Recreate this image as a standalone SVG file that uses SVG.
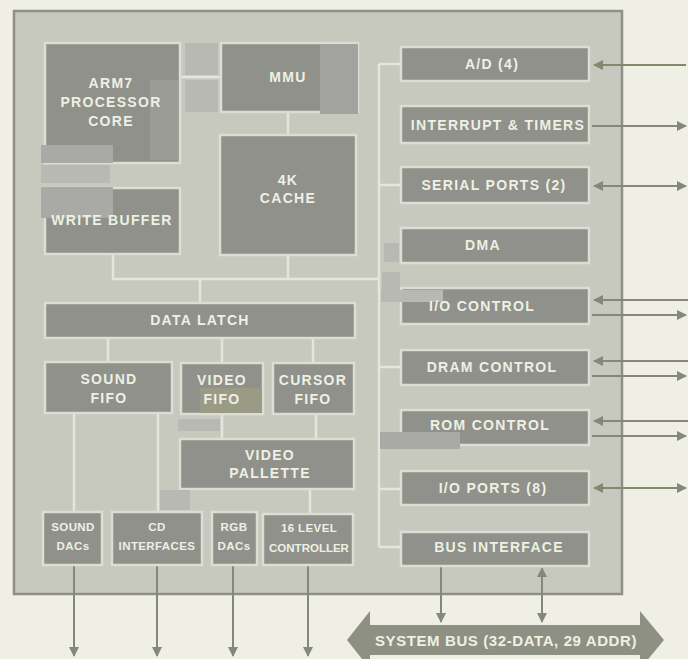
<svg xmlns="http://www.w3.org/2000/svg" width="688" height="659" viewBox="0 0 688 659">
<defs>
<style>
.blk{fill:#8f918a;stroke:#dcddd3;stroke-width:2.5}
.t{font-family:"Liberation Sans",Arial,sans-serif;font-weight:bold;fill:#eef0e4;text-anchor:middle}
.t14{font-size:14px;letter-spacing:1.3px}
.t12{font-size:11.5px;letter-spacing:0.4px}
.wire{stroke:#e4e5dc;stroke-width:2.5;fill:none}
.arr{stroke:#85877f;stroke-width:2;fill:none}
.patch{fill:#a9aaa5}
.lpatch{fill:#b8b9b3}
</style>
<marker id="ah" viewBox="0 0 10 10" refX="9" refY="5" markerWidth="10" markerHeight="10" markerUnits="userSpaceOnUse" orient="auto-start-reverse">
<path d="M0,0 L10,5 L0,10 z" fill="#85877f"/>
</marker>
<marker id="ahg" viewBox="0 0 10 10" refX="9" refY="5" markerWidth="10" markerHeight="10" markerUnits="userSpaceOnUse" orient="auto-start-reverse">
<path d="M0,0 L10,5 L0,10 z" fill="#7f8a6e"/>
</marker>
</defs>
<rect x="0" y="0" width="688" height="659" fill="#efefe6"/>
<rect id="chip" x="14" y="11" width="608" height="583" fill="#c7c8be" stroke="#8e8f88" stroke-width="2.5"/>

<g id="connectors">
<path class="wire" d="M180,77 H221"/>
<path class="wire" d="M288,112 V135"/>
<path class="wire" d="M113,255 V279 H379"/>
<path class="wire" d="M288,255 V279"/>
<path class="wire" d="M200,279 V303"/>
<path class="wire" d="M379,64 V547"/>
<path class="wire" d="M379,64 H401"/>
<path class="wire" d="M379,185 H401"/>
<path class="wire" d="M379,367 H401"/>
<path class="wire" d="M379,489 H401"/>
<path class="wire" d="M379,547 H401"/>
<path class="wire" d="M108,338 V362"/>
<path class="wire" d="M222,338 V363"/>
<path class="wire" d="M313,338 V363"/>
<path class="wire" d="M74,413 V512"/>
<path class="wire" d="M158,413 V512"/>
<path class="wire" d="M222,414 V439"/>
<path class="wire" d="M316,414 V439"/>
<path class="wire" d="M310,489 V514"/>
<path class="arr" d="M74,566 V656" marker-end="url(#ah)"/>
<path class="arr" d="M157,566 V656" marker-end="url(#ah)"/>
<path class="arr" d="M233,566 V656" marker-end="url(#ah)"/>
<path class="arr" d="M308,566 V656" marker-end="url(#ah)"/>
<path d="M686,65 H594" stroke="#7f8a6e" stroke-width="2" fill="none" marker-end="url(#ahg)"/>
<path class="arr" d="M592,126 H686" marker-end="url(#ah)"/>
<path class="arr" d="M594,186 H686" marker-start="url(#ah)" marker-end="url(#ah)"/>
<path class="arr" d="M688,300 H594" marker-end="url(#ah)"/>
<path class="arr" d="M592,315 H686" marker-end="url(#ah)"/>
<path class="arr" d="M688,361 H594" marker-end="url(#ah)"/>
<path class="arr" d="M592,376 H686" marker-end="url(#ah)"/>
<path class="arr" d="M688,421 H594" marker-end="url(#ah)"/>
<path class="arr" d="M592,436 H686" marker-end="url(#ah)"/>
<path d="M594,488 H686" stroke="#7f8a6e" stroke-width="2" fill="none" marker-start="url(#ahg)" marker-end="url(#ah)"/>
<path class="arr" d="M441,567 V622" marker-end="url(#ah)"/>
<path class="arr" d="M542,568 V622" marker-start="url(#ah)" marker-end="url(#ah)"/>
</g>

<g id="arm7"><rect class="blk" x="45" y="43" width="135" height="120"/><rect x="150" y="80" width="28" height="80" fill="#9b9c96"/><rect class="patch" x="41" y="145" width="72" height="18"/><text class="t t14" x="111" y="88">ARM7</text><text class="t t14" x="111" y="107">PROCESSOR</text><text class="t t14" x="111" y="126">CORE</text></g>
<g id="write-buffer"><rect class="blk" x="45" y="188" width="135" height="66"/><rect class="lpatch" x="41" y="165" width="69" height="18"/><rect class="patch" x="41" y="187" width="72" height="31"/><text class="t t14" x="112" y="225">WRITE BUFFER</text></g>
<g id="mmu"><rect class="lpatch" x="185" y="43" width="33" height="32"/><rect class="lpatch" x="185" y="80" width="33" height="32"/><rect class="blk" x="221" y="43" width="137" height="69"/><rect x="320" y="44" width="38" height="70" fill="#a3a4a0"/><text class="t t14" x="288" y="82">MMU</text></g>
<g id="cache"><rect class="blk" x="220" y="135" width="136" height="120"/><text class="t t14" x="288" y="185">4K</text><text class="t t14" x="288" y="203">CACHE</text></g>

<g id="data-latch"><rect class="blk" x="45" y="303" width="310" height="35"/><text class="t t14" x="200" y="325">DATA LATCH</text></g>
<g id="sound-fifo"><rect class="blk" x="45" y="362" width="127" height="51"/><text class="t t14" x="109" y="384">SOUND</text><text class="t t14" x="109" y="403">FIFO</text></g>
<g id="video-fifo"><rect class="blk" x="181" y="363" width="82" height="51"/><rect x="200" y="388" width="62" height="25" fill="#999b84"/><text class="t t14" x="222" y="385">VIDEO</text><text class="t t14" x="222" y="404">FIFO</text></g>
<g id="cursor-fifo"><rect class="blk" x="273" y="363" width="81" height="51"/><text class="t t14" x="313" y="385">CURSOR</text><text class="t t14" x="313" y="404">FIFO</text></g>
<g id="video-pallette"><rect class="lpatch" x="178" y="419" width="42" height="12"/><rect class="blk" x="180" y="439" width="174" height="50"/><text class="t t14" x="270" y="460">VIDEO</text><text class="t t14" x="270" y="478">PALLETTE</text></g>
<rect class="lpatch" x="160" y="490" width="30" height="20"/>
<g id="sound-dacs"><rect class="blk" x="43" y="512" width="59" height="53"/><text class="t t12" x="73" y="531">SOUND</text><text class="t t12" x="73" y="550">DACs</text></g>
<g id="cd-interfaces"><rect class="blk" x="112" y="512" width="90" height="53"/><text class="t t12" x="157" y="531">CD</text><text class="t t12" x="157" y="550">INTERFACES</text></g>
<g id="rgb-dacs"><rect class="blk" x="212" y="512" width="45" height="53"/><text class="t t12" x="234" y="531">RGB</text><text class="t t12" x="234" y="550">DACs</text></g>
<g id="level-controller"><rect class="blk" x="263" y="514" width="90" height="51"/><text class="t t12" x="309" y="532">16 LEVEL</text><text class="t t12" x="309" y="552" style="letter-spacing:0">CONTROLLER</text></g>

<rect class="lpatch" x="384" y="243" width="15" height="19"/>
<rect class="lpatch" x="382" y="272" width="18" height="18"/>
<g id="ad"><rect class="blk" x="401" y="47" width="188" height="34"/><text class="t t14" x="492" y="69">A/D (4)</text></g>
<g id="interrupt-timers"><rect class="blk" x="401" y="106" width="188" height="37"/><text class="t t14" x="498" y="130">INTERRUPT &amp; TIMERS</text></g>
<g id="serial-ports"><rect class="blk" x="401" y="167" width="188" height="36"/><text class="t t14" x="494" y="190">SERIAL PORTS (2)</text></g>
<g id="dma"><rect class="blk" x="401" y="228" width="188" height="35"/><text class="t t14" x="483" y="250">DMA</text></g>
<g id="io-control"><rect class="blk" x="401" y="288" width="188" height="36"/><rect class="lpatch" x="381" y="290" width="62" height="12"/><text class="t t14" x="482" y="311">I/O CONTROL</text></g>
<g id="dram-control"><rect class="blk" x="401" y="350" width="188" height="35"/><text class="t t14" x="492" y="372">DRAM CONTROL</text></g>
<g id="rom-control"><rect class="blk" x="401" y="410" width="188" height="35"/><rect class="patch" x="380" y="432" width="80" height="17"/><text class="t t14" x="490" y="430">ROM CONTROL</text></g>
<g id="io-ports"><rect class="blk" x="401" y="471" width="188" height="34"/><text class="t t14" x="493" y="493">I/O PORTS (8)</text></g>
<g id="bus-interface"><rect class="blk" x="401" y="532" width="188" height="34"/><text class="t t14" x="499" y="552">BUS INTERFACE</text></g>

<g id="system-bus"><polygon points="347,640 370,611 370,625 640,625 640,611 664,640 640,669 640,655 370,655 370,669" fill="#8d9083"/><text class="t" x="506" y="646" style="font-size:15px;letter-spacing:0.6px">SYSTEM BUS (32-DATA, 29 ADDR)</text></g>
</svg>
